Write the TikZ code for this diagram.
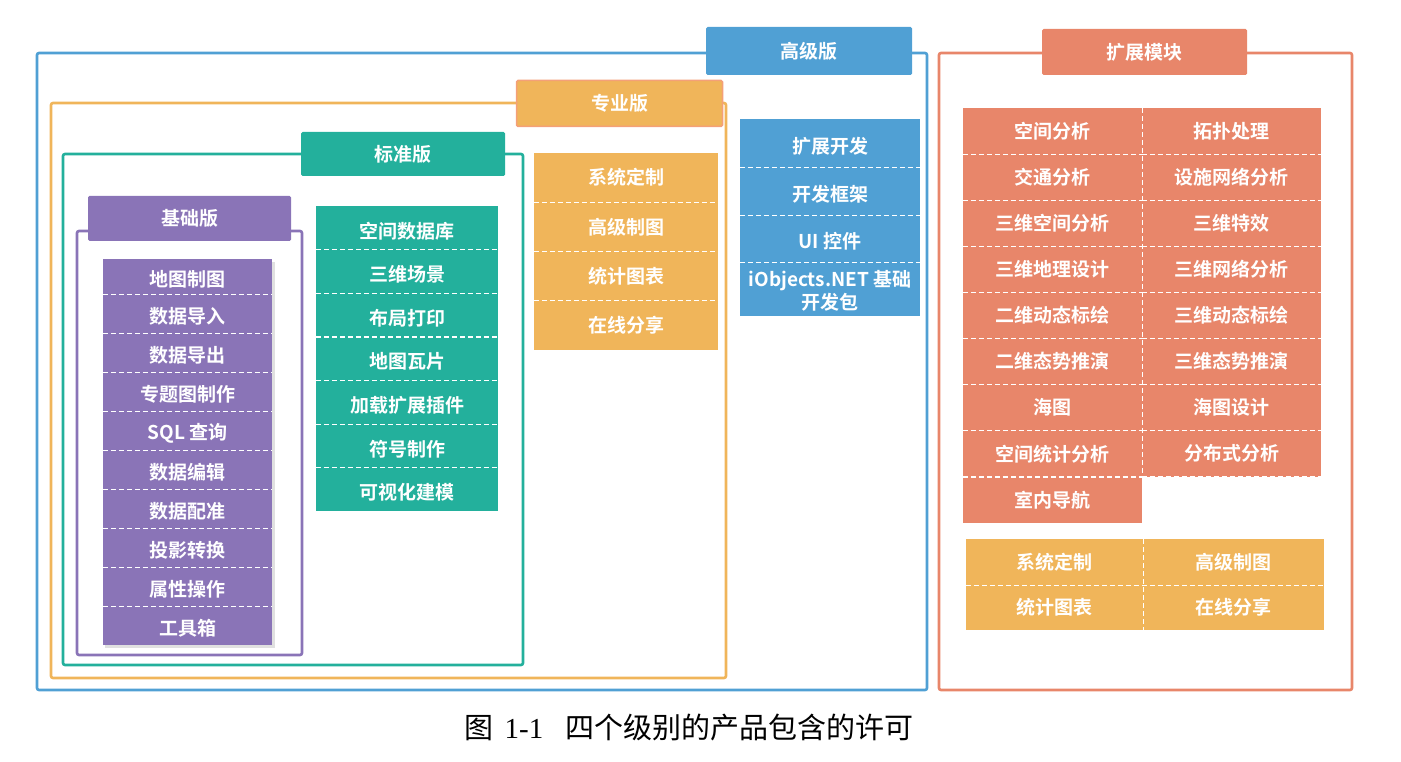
\documentclass[tikz,border=0pt]{standalone}
\usepackage{fontspec}
\setmainfont{Noto Sans CJK SC}[BoldFont={Noto Sans CJK SC Bold}]
\newfontfamily\capfont{Noto Sans CJK SC}
\newfontfamily\latserif{Liberation Serif}
\definecolor{cblue}{RGB}{80,160,212}
\definecolor{corange}{RGB}{240,181,90}
\definecolor{cteal}{RGB}{35,176,156}
\definecolor{cpurple}{RGB}{138,116,183}
\definecolor{csalmon}{RGB}{232,134,106}
\definecolor{cpeach}{RGB}{244,160,120}
\newcommand\lowtext[2][3pt]{\raisebox{-#1}[\height][\depth]{#2}}
\tikzset{
  frame/.style={line width=2.6pt, rounded corners=2pt},
  titlebox/.style={inner sep=0pt, text=white, rounded corners=1.5pt,
    font=\bfseries\fontsize{19}{22}\selectfont},
  cell/.style={inner sep=0pt, text=white,
    font=\bfseries\fontsize{19}{23}\selectfont},
  sep/.style={draw=white, line width=1.1pt, dash pattern=on 5pt off 3pt},
}
\begin{document}
\begin{tikzpicture}[x=1pt,y=-1pt]
\useasboundingbox (0,0) rectangle (1401,762);
% frames
\draw[frame, cblue] (37,53) rectangle (927,690);
\draw[frame, corange] (51,103) rectangle (726,678);
\draw[frame, cteal] (63,154) rectangle (523,665);
\draw[frame, cpurple] (77,231) rectangle (302,655);
\draw[frame, csalmon] (939,53) rectangle (1352,690);
% titles
\node[titlebox, fill=cblue, minimum width=206pt, minimum height=48pt] (tAdv) at (809,51) {高级版};
\node[titlebox, fill=corange, draw=cpeach, line width=1.5pt, minimum width=206pt, minimum height=46pt] (tPro) at (619.5,103.5) {专业版};
\node[titlebox, fill=cteal, minimum width=204pt, minimum height=44pt] (tStd) at (403,154) {标准版};
\node[titlebox, fill=cpurple, minimum width=203pt, minimum height=45pt] (tBas) at (189.5,218.5) {基础版};
\node[titlebox, fill=csalmon, minimum width=205pt, minimum height=46pt] (tExt) at (1144.5,52) {扩展模块};
% purple list shadow
\fill[black, opacity=0.12] (105,262) rectangle (275,648);
% purple list
\node[cell, fill=cpurple, minimum width=169pt, minimum height=35pt] (p1) at (187.5,276.5) {\lowtext{地图制图}};
\foreach \t [count=\i from 2] in {数据导入,数据导出,专题图制作,SQL 查询,数据编辑,数据配准,投影转换,属性操作,工具箱}
  \node[cell, fill=cpurple, minimum width=169pt, minimum height=39pt] (p\i) at (187.5,{294+(\i-1.5)*39}) {\lowtext{\t}};
\foreach \i in {1,...,9} \draw[sep] (p\i.south west) -- (p\i.south east);
% teal list
\foreach \t [count=\i] in {空间数据库,三维场景,布局打印,地图瓦片,加载扩展插件,符号制作,可视化建模}
  \node[cell, fill=cteal, minimum width=182pt, minimum height=43.6pt] (s\i) at (407,{206+(\i-0.5)*43.6}) {\lowtext{\t}};
\foreach \i in {1,...,7} \draw[sep] (s\i.south west) -- (s\i.south east);
% orange list
\foreach \t [count=\i] in {系统定制,高级制图,统计图表,在线分享}
  \node[cell, fill=corange, minimum width=184pt, minimum height=49.25pt] (o\i) at (626,{153+(\i-0.5)*49.25}) {\t};
\foreach \i in {1,...,4} \draw[sep] (o\i.south west) -- (o\i.south east);
% blue list
\node[cell, fill=cblue, minimum width=180pt, minimum height=48pt] (b1) at (830,143) {\lowtext{扩展开发}};
\node[cell, fill=cblue, minimum width=180pt, minimum height=48pt] (b2) at (830,191) {\lowtext{开发框架}};
\node[cell, fill=cblue, minimum width=180pt, minimum height=47pt] (b3) at (830,238.5) {\lowtext{UI 控件}};
\node[cell, fill=cblue, minimum width=180pt, minimum height=54pt] (b4) at (830,289) {\lowtext[4pt]{\begin{tabular}{@{}c@{}}iObjects.NET 基础\\开发包\end{tabular}}};
\foreach \i in {1,2,3} \draw[sep] (b\i.south west) -- (b\i.south east);
% salmon grid
\foreach \t [count=\i] in {空间分析,交通分析,三维空间分析,三维地理设计,二维动态标绘,二维态势推演,海图,空间统计分析,室内导航}
  \node[cell, fill=csalmon, minimum width=179pt, minimum height=46.1pt] (el\i) at (1052.5,{108+(\i-0.5)*46.1}) {\t};
\foreach \t [count=\i] in {拓扑处理,设施网络分析,三维特效,三维网络分析,三维动态标绘,三维态势推演,海图设计,分布式分析}
  \node[cell, fill=csalmon, minimum width=179pt, minimum height=46.1pt] (er\i) at (1231.5,{108+(\i-0.5)*46.1}) {\t};
\foreach \i in {1,...,9} \draw[sep] (el\i.south west) -- (el\i.south east);
\foreach \i in {1,...,8} \draw[sep] (er\i.south west) -- (er\i.south east);
\draw[sep] (el1.north east) -- (el9.south east);
% yellow grid
\node[cell, fill=corange, minimum width=177pt, minimum height=46pt] (y1) at (1054.5,562) {系统定制};
\node[cell, fill=corange, minimum width=181pt, minimum height=46pt] (y2) at (1233.5,562) {高级制图};
\node[cell, fill=corange, minimum width=177pt, minimum height=45pt] (y3) at (1054.5,607.5) {统计图表};
\node[cell, fill=corange, minimum width=181pt, minimum height=45pt] (y4) at (1233.5,607.5) {在线分享};
\draw[sep] (y1.south west) -- (y2.south east);
\draw[sep] (y3.south west) -- (y4.south east);
\draw[sep] (y1.north east) -- (y3.south east);
% caption
\node[inner sep=0pt, font=\capfont\fontsize{29}{33}\selectfont] (cap) at (689,728) {图\hspace{11pt}{\latserif 1-1}\hspace{22pt}四个级别的产品包含的许可};
\end{tikzpicture}
\end{document}
